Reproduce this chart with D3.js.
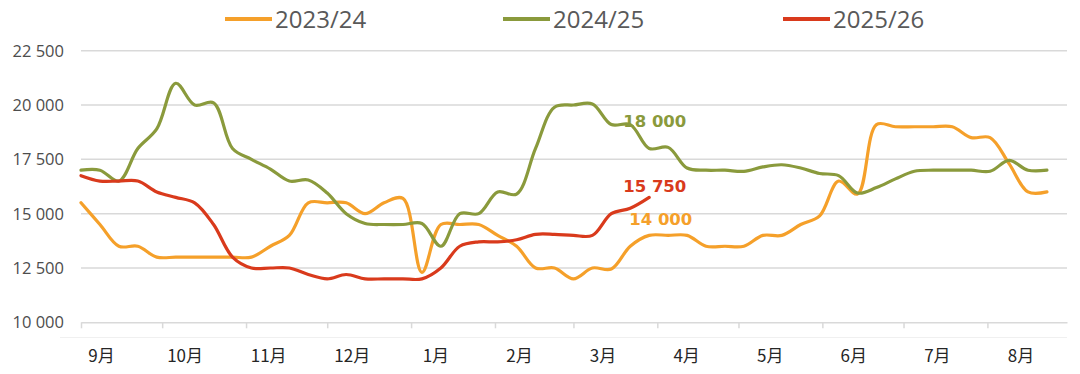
<!DOCTYPE html>
<html>
<head>
<meta charset="utf-8">
<script src="https://cdn.jsdelivr.net/npm/d3@7"></script>
<style>
  body { margin: 0; background: #fff; }
</style>
</head>
<body>
<script>
// seasons and weekly prices (week 0 = first week of September)
var seasons = ["2023/24", "2024/25", "2025/26"];
var months = ["9月", "10月", "11月", "12月", "1月", "2月", "3月", "4月", "5月", "6月", "7月", "8月"];
var yTicks = [10000, 12500, 15000, 17500, 20000, 22500];

var s2324 = [15500, 14500, 13500, 13500, 13000, 13000, 13000, 13000, 13000, 13000,
             13500, 14000, 15500, 15500, 15500, 15000, 15500, 15700, 12300, 14500,
             14500, 14500, 14000, 13500, 12500, 12500, 12000, 12500, 12450, 13500,
             14000, 14000, 14000, 13500, 13500, 13500, 14000, 14000, 14500, 14900,
             16500, 15900, 19100, 19000, 19000, 19000, 19000, 18500, 18500, 17300,
             16000, 16000];
var s2425 = [17000, 17000, 16500, 18000, 18900, 21000, 20000, 20100, 18000, 17500,
             17050, 16500, 16550, 15950, 15000, 14550, 14500, 14500, 14550, 13500,
             15000, 15000, 16000, 15900, 18000, 19900, 20000, 20050, 19100, 19100,
             18000, 18050, 17100, 17000, 17000, 16950, 17150, 17250, 17100, 16850,
             16750, 15950, 16200, 16600, 16950, 17000, 17000, 17000, 16950, 17450,
             17000, 17000];
var s2526 = [16750, 16500, 16500, 16500, 16000, 15750, 15500, 14500, 13000, 12500,
             12500, 12500, 12200, 12000, 12200, 12000, 12000, 12000, 12000, 12500,
             13500, 13700, 13700, 13800, 14050, 14050, 14000, 14000, 15000, 15250,
             15750];

var colors = ["#f5a02a", "#8a9a3c", "#d93a1c"];

var width = 1080, height = 374;
var svg = d3.select("body").append("svg")
    .attr("width", width)
    .attr("height", height)
    .style("font-family", "'Open Sans', sans-serif");

// date axis on a reference season (leap Feb like the source)
var start = new Date(2023, 8, 1);
var x = d3.scaleTime()
    .domain([start, new Date(2024, 7, 30, 10)])
    .range([81, 1067]);
var y = d3.scaleLinear()
    .domain([10000, 22500])
    .range([322.3, 50.7]);

var weekDate = function(i) { return d3.timeDay.offset(start, 7 * i); };

var fmt = d3.formatLocale({ decimal: ",", thousands: " ", grouping: [3], currency: ["", ""] }).format(",");

// gridlines
svg.append("g").selectAll("line")
    .data(yTicks.slice(1))
    .enter().append("line")
    .attr("x1", 81).attr("x2", 1067)
    .attr("y1", function(d) { return y(d); })
    .attr("y2", function(d) { return y(d); })
    .attr("stroke", "#d9d9d9")
    .attr("stroke-width", 1.5);

// y labels
svg.append("g").selectAll("text")
    .data(yTicks)
    .enter().append("text")
    .attr("x", 64)
    .attr("y", function(d) { return y(d); })
    .attr("dy", "0.36em")
    .attr("text-anchor", "end")
    .attr("font-size", "16.5px")
    .attr("fill", "#4d4d4d")
    .text(function(d) { return fmt(d); });

// x axis with month ticks
var xAxis = d3.axisBottom(x)
    .ticks(d3.timeMonth.every(1))
    .tickSize(6)
    .tickSizeOuter(0)
    .tickFormat("");
var gx = svg.append("g")
    .attr("transform", "translate(0," + y(10000) + ")")
    .call(xAxis);
gx.select(".domain").attr("stroke", "#d9d9d9").attr("stroke-width", 1.5);
gx.selectAll(".tick line").attr("stroke", "#d9d9d9").attr("stroke-width", 1.5);

// faint frame line under the axis
svg.append("line")
    .attr("x1", 60).attr("x2", 1067)
    .attr("y1", 337.5).attr("y2", 337.5)
    .attr("stroke", "#f0f0f0")
    .attr("stroke-width", 1);

// month labels
var xl = d3.scalePoint().domain(months).range([101.5, 1021]);
svg.append("g").selectAll("text")
    .data(months)
    .enter().append("text")
    .attr("x", function(d) { return xl(d); })
    .attr("y", 362)
    .attr("text-anchor", "middle")
    .attr("font-family", "'Noto Sans CJK SC', sans-serif")
    .attr("font-size", "17px")
    .attr("fill", "#262626")
    .text(function(d) { return d; });

// lines
var line = d3.line()
    .x(function(d, i) { return x(weekDate(i)); })
    .y(function(d) { return y(d); })
    .curve(d3.curveCatmullRom.alpha(0.5));

[s2324, s2425, s2526].forEach(function(s, k) {
    svg.append("path")
        .datum(s)
        .attr("d", line)
        .attr("fill", "none")
        .attr("stroke", colors[k])
        .attr("stroke-width", 3.2)
        .attr("stroke-linejoin", "round")
        .attr("stroke-linecap", "round");
});

// end-of-data labels at the latest week of the current season
var last = s2526.length - 1;
var labelLayout = [
    { s: s2324, k: 0, dx: -20, dy: -16 },
    { s: s2425, k: 1, dx: -26, dy: -27 },
    { s: s2526, k: 2, dx: -26, dy: -11 }
];
labelLayout.forEach(function(l) {
    var v = l.s[last];
    svg.append("text")
        .attr("x", x(weekDate(last)) + l.dx)
        .attr("y", y(v) + l.dy)
        .attr("dy", "0.36em")
        .attr("font-family", "'DejaVu Sans', sans-serif")
        .attr("font-weight", "bold")
        .attr("font-size", "16.5px")
        .attr("fill", colors[l.k])
        .text(fmt(v));
});

// legend
var legendX = [225, 503, 783];
var lg = svg.append("g").selectAll("g")
    .data(seasons)
    .enter().append("g")
    .attr("transform", function(d, i) { return "translate(" + legendX[i] + ",19)"; });
lg.append("line")
    .attr("x1", 0).attr("x2", 47)
    .attr("stroke", function(d, i) { return colors[i]; })
    .attr("stroke-width", 4);
lg.append("text")
    .attr("x", 50)
    .attr("y", 8.5)
    .attr("font-size", "24px")
    .attr("fill", "#595959")
    .text(function(d) { return d; });
</script>
</body>
</html>
